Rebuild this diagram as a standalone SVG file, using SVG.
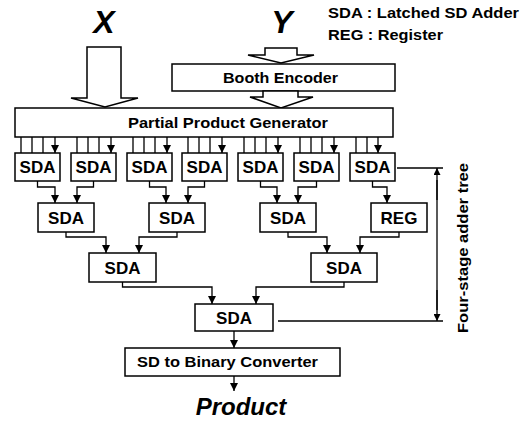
<svg xmlns="http://www.w3.org/2000/svg" width="527" height="427" viewBox="0 0 527 427">
<defs>
<marker id="ah" viewBox="0 0 10 10" refX="10" refY="5" markerWidth="10" markerHeight="8" markerUnits="userSpaceOnUse" orient="auto">
<path d="M0,0 L10,5 L0,10 z" fill="#000"/>
</marker>
<marker id="ahs" viewBox="0 0 10 10" refX="10" refY="5" markerWidth="9" markerHeight="8" markerUnits="userSpaceOnUse" orient="auto">
<path d="M0,0 L10,5 L0,10 z" fill="#000"/>
</marker>
<marker id="ahl" viewBox="0 0 10 10" refX="10" refY="5" markerWidth="13" markerHeight="7" markerUnits="userSpaceOnUse" orient="auto">
<path d="M0,0 L10,5 L0,10 z" fill="#000"/>
</marker>
</defs>
<style>
.box{fill:#fff;stroke:#000;stroke-width:1.5}
.t{font-family:"Liberation Sans",Arial,sans-serif;font-weight:bold;fill:#000}
.lbl{font-size:15px}
.sda{font-size:17px;text-anchor:middle}
.big{font-size:32px;font-style:italic;text-anchor:middle}
.c{fill:none;stroke:#000;stroke-width:1.3}
.ca{fill:none;stroke:#000;stroke-width:1.3;marker-end:url(#ah)}
.cs{fill:none;stroke:#000;stroke-width:1.3;marker-end:url(#ahs)}
.cl{fill:none;stroke:#000;stroke-width:1.3;marker-end:url(#ahl)}
.hol{fill:#fff;stroke:#000;stroke-width:1.5;stroke-linejoin:miter}
</style>
<rect width="527" height="427" fill="#fff"/>

<g id="legend">
<text class="t lbl" x="328" y="18" textLength="191" lengthAdjust="spacingAndGlyphs">SDA : Latched SD Adder</text>
<text class="t lbl" x="328" y="40" textLength="115" lengthAdjust="spacingAndGlyphs">REG : Register</text>
</g>

<g id="inX">
<text class="t big" x="104" y="33">X</text>
<path class="hol" d="M87,47 H121 V98 H138 L105,107 L71,98 H87 Z"/>
</g>
<g id="inY">
<text class="t big" x="282" y="33">Y</text>
<path class="hol" d="M265,48 H297 V55 H314 L281,63 L248,55 H265 Z"/>
</g>

<g id="booth">
<rect class="box" x="172" y="64" width="223" height="27"/>
<text class="t lbl" x="223" y="83" textLength="115" lengthAdjust="spacingAndGlyphs">Booth Encoder</text>
</g>
<g id="boothToPPG">
<path class="hol" d="M263,91 H298 V97 H313 L281,108 L250,97 H263 Z"/>
</g>

<g id="ppg">
<rect class="box" x="15" y="108" width="378" height="29"/>
<text class="t lbl" x="128" y="128" textLength="200" lengthAdjust="spacingAndGlyphs">Partial Product Generator</text>
</g>

<g id="sda1"><rect class="box" x="15" y="153" width="45" height="28"/><text class="t sda" x="37.5" y="173">SDA</text></g>
<g id="sda2"><rect class="box" x="71" y="153" width="45" height="28"/><text class="t sda" x="93.5" y="173">SDA</text></g>
<g id="sda3"><rect class="box" x="127" y="153" width="45" height="28"/><text class="t sda" x="149.5" y="173">SDA</text></g>
<g id="sda4"><rect class="box" x="182" y="153" width="45" height="28"/><text class="t sda" x="204.5" y="173">SDA</text></g>
<g id="sda5"><rect class="box" x="238" y="153" width="45" height="28"/><text class="t sda" x="260.5" y="173">SDA</text></g>
<g id="sda6"><rect class="box" x="294" y="153" width="45" height="28"/><text class="t sda" x="316.5" y="173">SDA</text></g>
<g id="sda7"><rect class="box" x="350" y="153" width="45" height="28"/><text class="t sda" x="372.5" y="173">SDA</text></g>

<g id="sda8"><rect class="box" x="38" y="203" width="56" height="29"/><text class="t sda" x="66" y="223.5">SDA</text></g>
<g id="sda9"><rect class="box" x="149" y="203" width="56" height="29"/><text class="t sda" x="177" y="223.5">SDA</text></g>
<g id="sda10"><rect class="box" x="260" y="203" width="56" height="29"/><text class="t sda" x="288" y="223.5">SDA</text></g>
<g id="reg"><rect class="box" x="371" y="203" width="56" height="29"/><text class="t sda" x="399" y="223.5">REG</text></g>

<g id="sda11"><rect class="box" x="89" y="253" width="67" height="29"/><text class="t sda" x="122.5" y="273.5">SDA</text></g>
<g id="sda12"><rect class="box" x="311" y="253" width="66" height="29"/><text class="t sda" x="344" y="273.5">SDA</text></g>

<g id="sda13"><rect class="box" x="195" y="304" width="78" height="27"/><text class="t sda" x="234" y="323.5">SDA</text></g>

<g id="sdb">
<rect class="box" x="125" y="348" width="215" height="28"/>
<text class="t lbl" x="137" y="367" textLength="181" lengthAdjust="spacingAndGlyphs">SD to Binary Converter</text>
</g>

<g id="product">
<text class="t" x="241" y="415" font-size="24" font-style="italic" text-anchor="middle">Product</text>
</g>

<g id="connectors">
<path class="cs" d="M21,137 V153 M32,137 V153 M43,137 V153 M55,137 V153"/>
<path class="cs" d="M77,137 V153 M88,137 V153 M99,137 V153 M111,137 V153"/>
<path class="cs" d="M133,137 V153 M144,137 V153 M155,137 V153 M167,137 V153"/>
<path class="cs" d="M188,137 V153 M199,137 V153 M210,137 V153 M222,137 V153"/>
<path class="cs" d="M244,137 V153 M255,137 V153 M266,137 V153 M278,137 V153"/>
<path class="cs" d="M300,137 V153 M311,137 V153 M322,137 V153 M334,137 V153"/>
<path class="cs" d="M356,137 V153 M367,137 V153 M378,137 V153"/>
<path class="ca" d="M37.5,181 V187 H55 V203"/>
<path class="ca" d="M93.5,181 V187 H77 V203"/>
<path class="ca" d="M149.5,181 V187 H166 V203"/>
<path class="ca" d="M204.5,181 V187 H188 V203"/>
<path class="ca" d="M260.5,181 V187 H277 V203"/>
<path class="ca" d="M316.5,181 V187 H298 V203"/>
<path class="ca" d="M372.5,181 V187 H387 V203"/>
<path class="ca" d="M66,232 V237 H106 V253"/>
<path class="ca" d="M177,232 V237 H139 V253"/>
<path class="ca" d="M288,232 V237 H327 V253"/>
<path class="ca" d="M399,232 V237 H360 V253"/>
<path class="ca" d="M122.5,282 V287 H212 V304"/>
<path class="ca" d="M344,282 V287 H256 V304"/>
<path class="ca" d="M234,331 V348"/>
<path class="ca" d="M234,376 V391"/>
<path class="c" d="M397,168 H443"/>
<path class="c" d="M278,321 H443"/>
<path class="c" d="M437,180 V310"/>
<path class="cl" d="M437,200 V168"/>
<path class="cl" d="M437,290 V321"/>
</g>

<g id="stageLabel">
<text class="t lbl" transform="translate(468,248) rotate(-90)" x="0" y="0" text-anchor="middle" textLength="170" lengthAdjust="spacingAndGlyphs">Four-stage adder tree</text>
</g>
</svg>
